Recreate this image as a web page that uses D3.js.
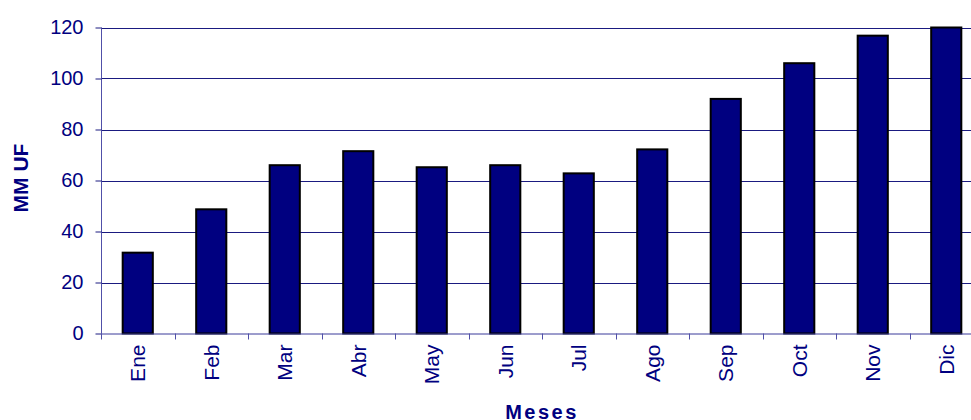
<!DOCTYPE html>
<html>
<head>
<meta charset="utf-8">
<script src="https://cdn.jsdelivr.net/npm/d3@7"></script>
<style>
	body { margin: 0; background: #fff; }
	svg { display: block; font-family: 'Liberation Sans', Arial, sans-serif; }
</style>
</head>
<body>
<svg id="chart"></svg>
<script>
const w = 971;
const h = 420;

const months = ['Ene', 'Feb', 'Mar', 'Abr', 'May', 'Jun', 'Jul', 'Ago', 'Sep', 'Oct', 'Nov', 'Dic'];
const values = [31.7, 48.7, 66, 71.5, 65.2, 66, 62.8, 72.2, 92, 106, 116.8, 120];
const yTicks = [0, 20, 40, 60, 80, 100, 120];

const plotLeft = 101;
const plotRight = 983;
const plotTop = 27.5;
const plotBottom = 333.5;
const navy = '#000080';

let canvas = d3.select('#chart').attr('width', w).attr('height', h);

let xScale = d3.scaleBand().domain(months).range([plotLeft, plotRight]).paddingInner(0.59).paddingOuter(0.295);
let bandStep = d3.scaleBand().domain(months).range([plotLeft, plotRight]);
let yScale = d3.scaleLinear().domain([0, 120]).range([plotBottom, plotTop]);

// gridlines
canvas
	.append('g')
	.selectAll('line')
	.data(yTicks.filter((d) => d > 0))
	.enter()
	.append('line')
	.attr('x1', plotLeft)
	.attr('x2', w)
	.attr('y1', (d) => Math.round(yScale(d)) + 0.5)
	.attr('y2', (d) => Math.round(yScale(d)) + 0.5)
	.attr('stroke', '#1a1a80')
	.attr('stroke-width', 1);

// bars
canvas
	.append('g')
	.selectAll('rect')
	.data(values)
	.enter()
	.append('rect')
	.attr('x', (d, i) => xScale(months[i]))
	.attr('y', (d) => yScale(d))
	.attr('width', xScale.bandwidth())
	.attr('height', (d) => plotBottom - yScale(d))
	.attr('fill', navy)
	.attr('stroke', '#000')
	.attr('stroke-width', 2);

// y axis
let yAxis = d3.axisLeft(yScale).tickValues(yTicks).tickSize(6).tickPadding(12);
let gy = canvas.append('g').attr('transform', `translate(${plotLeft + 0.5},0)`).call(yAxis);
gy.select('.domain').attr('stroke', '#5050a8').attr('d', `M0,${plotTop}V${plotBottom}`);
gy.selectAll('.tick line').attr('stroke', '#1a1a80');
gy.selectAll('.tick text').attr('fill', navy).style('font-size', '20px');

// x axis
let xAxis = d3.axisBottom(bandStep).tickSize(0).tickPadding(0);
let gx = canvas.append('g').attr('transform', `translate(0,${plotBottom})`).call(xAxis);
gx.select('.domain').attr('stroke', '#3a3a9a').attr('d', `M${plotLeft},0.5H${w}`);
gx.selectAll('.tick text')
	.attr('fill', navy)
	.style('font-size', '21px')
	.attr('transform', 'rotate(-90)')
	.attr('text-anchor', 'end')
	.attr('x', -11)
	.attr('y', 0)
	.attr('dy', '0.35em');

// x tick marks at band edges
canvas
	.append('g')
	.selectAll('line')
	.data(months)
	.enter()
	.append('line')
	.attr('x1', (d) => Math.round(bandStep(d)) + 0.5)
	.attr('x2', (d) => Math.round(bandStep(d)) + 0.5)
	.attr('y1', plotBottom)
	.attr('y2', plotBottom + 6)
	.attr('stroke', '#5050a8');

// axis titles
canvas
	.append('text')
	.attr('transform', `translate(28,178) rotate(-90)`)
	.attr('text-anchor', 'middle')
	.attr('fill', navy)
	.style('font-size', '21px')
	.style('font-weight', 'bold')
	.text('MM UF');

canvas
	.append('text')
	.attr('x', 542)
	.attr('y', 419)
	.attr('text-anchor', 'middle')
	.attr('fill', navy)
	.style('font-size', '20px')
	.style('font-weight', 'bold')
	.style('letter-spacing', '2.5px')
	.text('Meses');
</script>
</body>
</html>
